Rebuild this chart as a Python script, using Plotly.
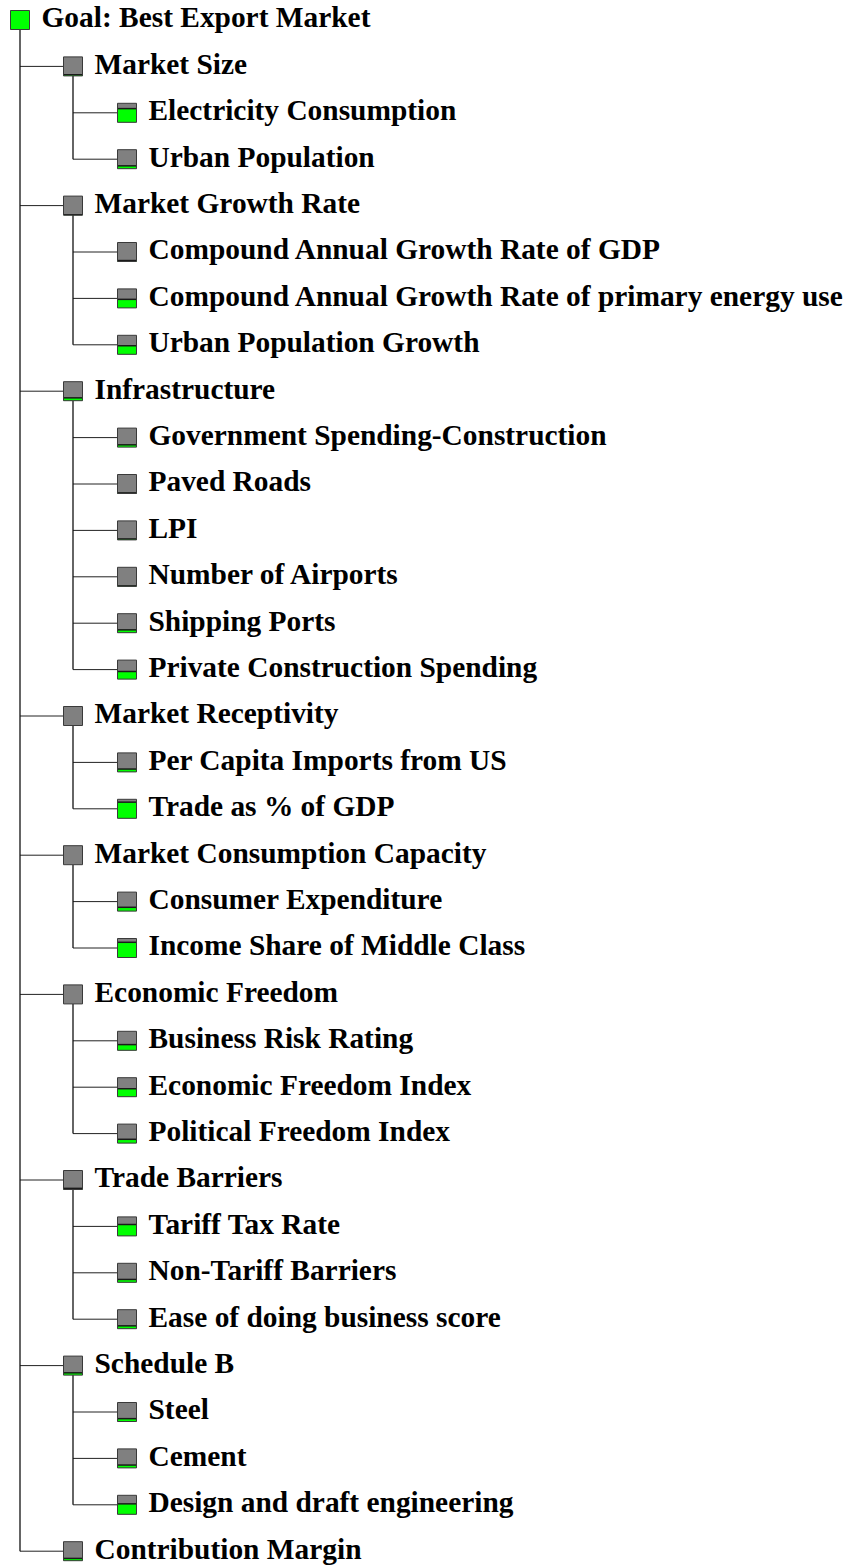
import plotly.graph_objects as go

W, H = 847, 1568

GOAL = 'Goal: Best Export Market'
GOAL_FILL = 1.0

CRITERIA = ['Market Size', 'Market Growth Rate', 'Infrastructure', 'Market Receptivity',
            'Market Consumption Capacity', 'Economic Freedom', 'Trade Barriers',
            'Schedule B', 'Contribution Margin']
CRIT_FILL = [0.06, 0.02, 0.15, 0.0, 0.0, 0.0, 0.06, 0.12, 0.12]

SUB_LABELS = [
    ['Electricity Consumption', 'Urban Population'],
    ['Compound Annual Growth Rate of GDP', 'Compound Annual Growth Rate of primary energy use',
     'Urban Population Growth'],
    ['Government Spending-Construction', 'Paved Roads', 'LPI', 'Number of Airports',
     'Shipping Ports', 'Private Construction Spending'],
    ['Per Capita Imports from US', 'Trade as % of GDP'],
    ['Consumer Expenditure', 'Income Share of Middle Class'],
    ['Business Risk Rating', 'Economic Freedom Index', 'Political Freedom Index'],
    ['Tariff Tax Rate', 'Non-Tariff Barriers', 'Ease of doing business score'],
    ['Steel', 'Cement', 'Design and draft engineering'],
    [],
]
SUB_FILL = [
    [0.72, 0.15],
    [0.05, 0.45, 0.45],
    [0.12, 0.03, 0.05, 0.02, 0.15, 0.4],
    [0.15, 0.85],
    [0.2, 0.8],
    [0.3, 0.42, 0.2],
    [0.6, 0.15, 0.15],
    [0.15, 0.15, 0.55],
    [],
]

# layout constants (pixels)
Y0, DY = 20, 46.4
LEVEL_X = [20, 73, 127]   # box centres per level
BOX = 19
GRAY, GREEN, EDGE = '#808080', '#00ff00', '#3a3a3a'

# flatten tree into rows
rows = [(0, GOAL, GOAL_FILL, None)]
for ci, c in enumerate(CRITERIA):
    rows.append((1, c, CRIT_FILL[ci], 0))
    parent = len(rows) - 1
    for si, s in enumerate(SUB_LABELS[ci]):
        rows.append((2, s, SUB_FILL[ci][si], parent))

ys = [Y0 + i * DY for i in range(len(rows))]

shapes = []
# connectors
last_child = {}
for i, (lvl, _, _, par) in enumerate(rows):
    if par is not None:
        last_child[par] = i
        px_ = LEVEL_X[rows[par][0]]
        shapes.append(dict(type='line', x0=px_, x1=LEVEL_X[lvl] - BOX / 2, y0=ys[i], y1=ys[i],
                           line=dict(color='#222', width=1)))
for par, last in last_child.items():
    px_ = LEVEL_X[rows[par][0]]
    shapes.append(dict(type='line', x0=px_, x1=px_, y0=ys[par] + BOX / 2, y1=ys[last],
                       line=dict(color='#111', width=1.3)))

# boxes: grey square, green part from the bottom = weight
for i, (lvl, _, f, _) in enumerate(rows):
    cx, cy = LEVEL_X[lvl], ys[i]
    x0, x1 = cx - BOX / 2, cx + BOX / 2
    top, bot = cy - BOX / 2, cy + BOX / 2
    shapes.append(dict(type='rect', x0=x0, x1=x1, y0=top, y1=bot,
                       fillcolor=GRAY, line=dict(width=0)))
    if f > 0:
        gtop = bot - f * BOX
        shapes.append(dict(type='rect', x0=x0, x1=x1, y0=gtop, y1=bot,
                           fillcolor=GREEN, line=dict(width=0)))
        if f < 1:
            shapes.append(dict(type='line', x0=x0, x1=x1, y0=gtop, y1=gtop,
                               line=dict(color='#1a1a1a', width=1.5)))
    shapes.append(dict(type='rect', x0=x0, x1=x1, y0=top, y1=bot,
                       fillcolor='rgba(0,0,0,0)', line=dict(color=EDGE, width=1)))

fig = go.Figure()
fig.add_trace(go.Scatter(
    x=[LEVEL_X[r[0]] + BOX / 2 + 12 for r in rows],
    y=ys,
    text=[r[1] for r in rows],
    mode='text',
    textposition='middle right',
    textfont=dict(family='Liberation Serif, Times New Roman, serif', size=29.4, color='#000'),
    hoverinfo='skip',
    showlegend=False,
))

fig.update_layout(
    width=W, height=H,
    margin=dict(l=0, r=0, t=0, b=0),
    paper_bgcolor='white', plot_bgcolor='white',
    shapes=shapes,
    xaxis=dict(range=[0, W], visible=False, fixedrange=True),
    yaxis=dict(range=[H, 0], visible=False, fixedrange=True),
)
fig.update_traces(texttemplate='<b>%{text}</b>', cliponaxis=False)

# drop the default 8px body margin so the figure fills the window
fig.write_html('out.html', config={'displayModeBar': False},
               post_script="document.body.style.margin='0';")
